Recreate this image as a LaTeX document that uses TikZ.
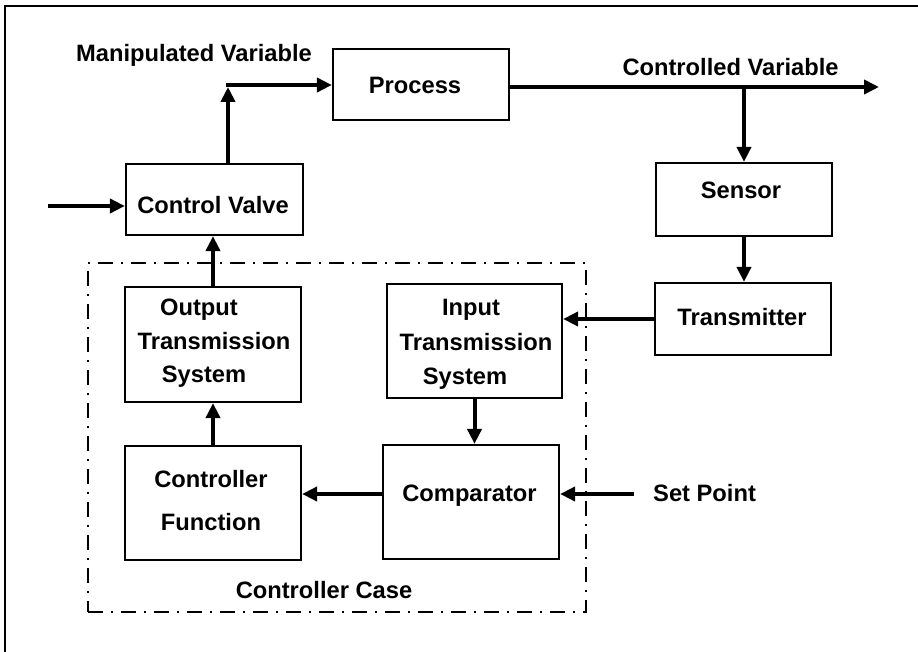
\documentclass[tikz,border=0pt]{standalone}
\usepackage{fontspec}
\setmainfont{Liberation Sans}
\usetikzlibrary{arrows.meta}
\begin{document}
\begin{tikzpicture}[x=1pt,y=-1pt,
  box/.style={draw,line width=2.2pt,minimum width=176pt,inner sep=0pt},
  lbl/.style={font=\fontsize{23.7}{28}\selectfont\bfseries,inner sep=0pt},
  arr/.style={line width=4pt,-{Triangle[length=15pt,width=14pt]}},
  frame/.style={line width=2.2pt},
  casebox/.style={line width=2pt,dash pattern=on 15pt off 8pt on 2pt off 8pt}]
\useasboundingbox (0,0) rectangle (918,652);
% outer frame (top and left)
\coordinate (fr1) at (5,652);
\coordinate (fr2) at (5,6);
\coordinate (fr3) at (918,6);
\draw[frame] (fr1) -- (fr2) -- (fr3);
% controller case
\node[casebox,draw,minimum width=498pt,minimum height=349pt,inner sep=0pt] (case) at (337,437.5) {};
% boxes
\node[box,minimum height=71pt] (proc) at (421,84.5) {};
\node[box,minimum width=177pt,minimum height=71pt] (cv) at (214.5,199.5) {};
\node[box,minimum height=73pt] (sensor) at (744,199.5) {};
\node[box,minimum height=72pt] (trans) at (743,319) {};
\node[box,minimum height=115pt] (ots) at (213,344.5) {};
\node[box,minimum width=175pt,minimum height=114pt] (its) at (474.5,341) {};
\node[box,minimum height=114pt] (cf) at (213,503) {};
\node[box,minimum height=114pt] (comp) at (471,502) {};
% texts
\node[lbl,anchor=base] (procT) at (415,94) {Process};
\node[lbl,anchor=base] (cvT) at (213,214) {Control Valve};
\node[lbl,anchor=base] (sensorT) at (741,199) {Sensor};
\node[lbl,anchor=base] (transT) at (742,325) {Transmitter};
\node[lbl,anchor=base] (compT) at (469.5,501) {Comparator};
\node[lbl,align=center,font=\fontsize{23.7}{33.5}\selectfont\bfseries] (otsT) at (214,343.4) {Output\kern30pt\\Transmission\\System\kern20pt};
\node[lbl,align=center,font=\fontsize{23.7}{34.5}\selectfont\bfseries] (itsT) at (476,344.4) {Input\kern10pt\\Transmission\\System\kern22pt};
\node[lbl,align=center,font=\fontsize{23.7}{43}\selectfont\bfseries] (cfT) at (211,500.8) {Controller\\Function};
\node[lbl,anchor=base] (mvT) at (194,62) {Manipulated Variable};
\node[lbl,anchor=base] (cvarT) at (730.5,76) {Controlled Variable};
\node[lbl,anchor=base west] (spT) at (653,501) {Set Point};
\node[lbl,anchor=base] (caseT) at (324,598) {Controller Case};
% connectors
\coordinate (inp) at (48,206);
\draw[arr] (inp) -- (inp -| cv.west);
\coordinate (mv) at (228,85);
\draw[arr] (cv.north -| mv) -- ([yshift=-2pt]mv);
\draw[arr] ([xshift=-2pt]mv) -- (mv -| proc.west);
\coordinate (cvout) at (879,87);
\draw[arr] (proc.east |- cvout) -- (cvout);
\draw[arr] (sensor.north |- cvout) -- (sensor.north);
\draw[arr] (sensor.south) -- (sensor.south |- trans.north);
\draw[arr] (trans.west) -- (trans.west -| its.east);
\draw[arr] (its.south) -- (its.south |- comp.north);
\coordinate (sp) at (634,494);
\draw[arr] (sp) -- (sp -| comp.east);
\draw[arr] (comp.west |- sp) -- (cf.east |- sp);
\draw[arr] (cf.north) -- (ots.south);
\draw[arr] (ots.north) -- (ots.north |- cv.south);
\end{tikzpicture}
\end{document}
